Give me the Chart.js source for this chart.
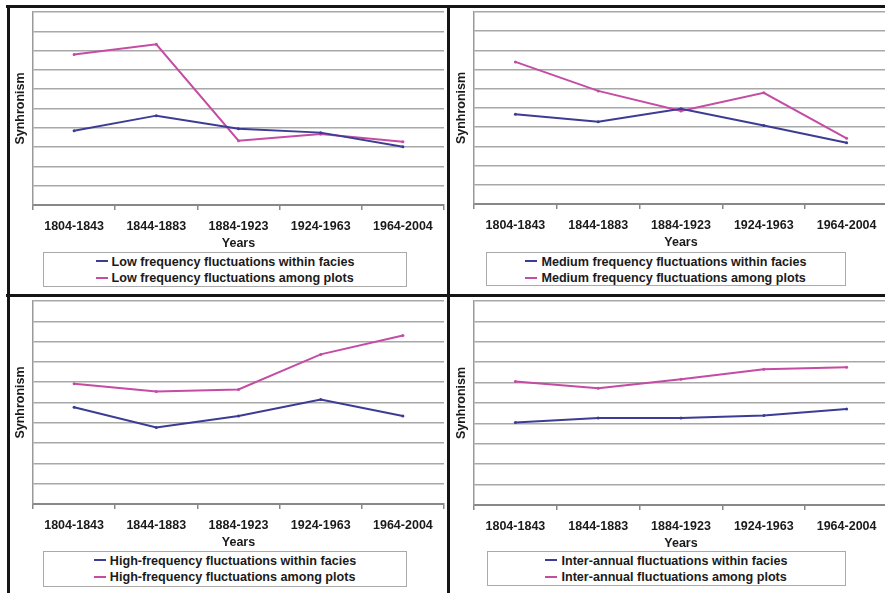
<html>
<head>
	<title>Synhronism</title>
	<script src="https://cdn.jsdelivr.net/npm/chart.js"></script>
	<style>
		body { margin: 0; width: 885px; height: 593px; overflow: hidden; background: #fff; position: relative; font-family: Arial, "Liberation Sans", sans-serif; }
		.panel { position: absolute; }
		.panel canvas { position: absolute; left: 0; top: 0; }
		.legend { position: absolute; box-sizing: border-box; border: 1.5px solid #aaa; text-align: center; font-weight: bold; font-size: 12.6px; color: #1a1a1a; background: #fff; padding-top: 0.5px; }
		.legend .inner { display: inline-block; text-align: left; }
		.legend .row { height: 16.5px; line-height: 16.5px; white-space: nowrap; }
		.legend .dash { display: inline-block; width: 12px; height: 2px; vertical-align: middle; margin-right: 4px; position: relative; top: -1px; }
		.rule { position: absolute; background: #151515; z-index: 5; }
	</style>
</head>
<body>
	<script>
		const years = ['1804-1843', '1844-1883', '1884-1923', '1924-1963', '1964-2004'];

		const lowWithin = [3.85, 4.63, 3.95, 3.75, 3.02];
		const lowAmong = [7.8, 8.33, 3.33, 3.68, 3.28];
		const mediumWithin = [4.68, 4.28, 4.96, 4.09, 3.19];
		const mediumAmong = [7.4, 5.89, 4.84, 5.79, 3.42];
		const highWithin = [4.77, 3.77, 4.33, 5.15, 4.33];
		const highAmong = [5.92, 5.54, 5.64, 7.37, 8.3];
		const interWithin = [4.05, 4.26, 4.26, 4.39, 4.7];
		const interAmong = [6.05, 5.72, 6.16, 6.65, 6.75];

		const lowNames = ['Low frequency fluctuations within facies', 'Low frequency fluctuations among plots'];
		const mediumNames = ['Medium frequency fluctuations within facies', 'Medium frequency fluctuations among plots'];
		const highNames = ['High-frequency fluctuations within facies', 'High-frequency fluctuations among plots'];
		const interNames = ['Inter-annual fluctuations within facies', 'Inter-annual fluctuations among plots'];

		const blue = '#3c3c96';
		const pink = '#c44ca2';
		const labelFont = { family: 'Arial', weight: 'bold', size: 12.5 };

		function makePanel(p) {
			const div = document.createElement('div');
			div.className = 'panel';
			div.style.left = p.left + 'px';
			div.style.top = p.top + 'px';
			const canvas = document.createElement('canvas');
			canvas.width = p.width;
			canvas.height = p.height;
			div.appendChild(canvas);
			document.body.appendChild(div);

			new Chart(canvas, {
				type: 'line',
				data: {
					labels: years,
					datasets: [
						{ label: p.names[0], data: p.within, borderColor: blue, backgroundColor: blue, borderWidth: 2, pointRadius: 1.5, pointBorderWidth: 0 },
						{ label: p.names[1], data: p.among, borderColor: pink, backgroundColor: pink, borderWidth: 2, pointRadius: 1.5, pointBorderWidth: 0 }
					]
				},
				options: {
					responsive: false,
					animation: false,
					layout: { padding: { left: p.padLeft, right: 2, top: p.padTop, bottom: p.padBottom } },
					plugins: { legend: { display: false }, tooltip: { enabled: false } },
					scales: {
						x: {
							offset: true,
							grid: { offset: true, drawOnChartArea: false, drawTicks: true, tickLength: 5, color: '#888', lineWidth: 1.5 },
							border: { color: '#888', width: 2 },
							ticks: { color: '#1a1a1a', font: labelFont, padding: 9, maxRotation: 0, autoSkip: false },
							title: { display: true, text: 'Years', color: '#1a1a1a', font: labelFont, padding: { top: 0, bottom: 0 } },
							afterFit: axis => { axis.height = 46; }
						},
						y: {
							min: 0,
							max: 10,
							ticks: { display: false, stepSize: 1 },
							grid: { color: '#a8a8a8', lineWidth: 1.5, drawTicks: false },
							border: { color: '#999', width: 1.5 },
							title: { display: true, text: 'Synhronism', color: '#1a1a1a', font: labelFont, padding: { top: 3, bottom: 0 } },
							afterFit: axis => { axis.width = 23; }
						}
					}
				}
			});

			const leg = document.createElement('div');
			leg.className = 'legend';
			leg.style.left = p.legend[0] + 'px';
			leg.style.top = p.legend[1] + 'px';
			leg.style.width = p.legend[2] + 'px';
			leg.style.height = p.legend[3] + 'px';
			leg.innerHTML = `<div class="inner">
				<div class="row"><span class="dash" style="background:${blue}"></span>${p.names[0]}</div>
				<div class="row"><span class="dash" style="background:${pink}"></span>${p.names[1]}</div>
			</div>`;
			document.body.appendChild(leg);
		}

		makePanel({ left: 8, top: 6, width: 440, height: 289, padLeft: 2, padTop: 6, padBottom: 44, within: lowWithin, among: lowAmong, names: lowNames, legend: [43, 252, 364, 35] });
		makePanel({ left: 448, top: 6, width: 444, height: 289, padLeft: 3, padTop: 6, padBottom: 45, within: mediumWithin, among: mediumAmong, names: mediumNames, legend: [486, 252, 360, 34] });
		makePanel({ left: 8, top: 297, width: 440, height: 296, padLeft: 2, padTop: 3, padBottom: 43, within: highWithin, among: highAmong, names: highNames, legend: [43, 551, 364, 36] });
		makePanel({ left: 448, top: 297, width: 444, height: 296, padLeft: 3, padTop: 3, padBottom: 42, within: interWithin, among: interAmong, names: interNames, legend: [487, 551, 359, 35] });

		// black frame and dividers
		[[6, 5, 879, 3], [7, 5, 2.5, 588], [447, 5, 3, 588], [6, 294, 879, 3]].forEach(r => {
			const line = document.createElement('div');
			line.className = 'rule';
			line.style.left = r[0] + 'px';
			line.style.top = r[1] + 'px';
			line.style.width = r[2] + 'px';
			line.style.height = r[3] + 'px';
			document.body.appendChild(line);
		});
	</script>
</body>
</html>
